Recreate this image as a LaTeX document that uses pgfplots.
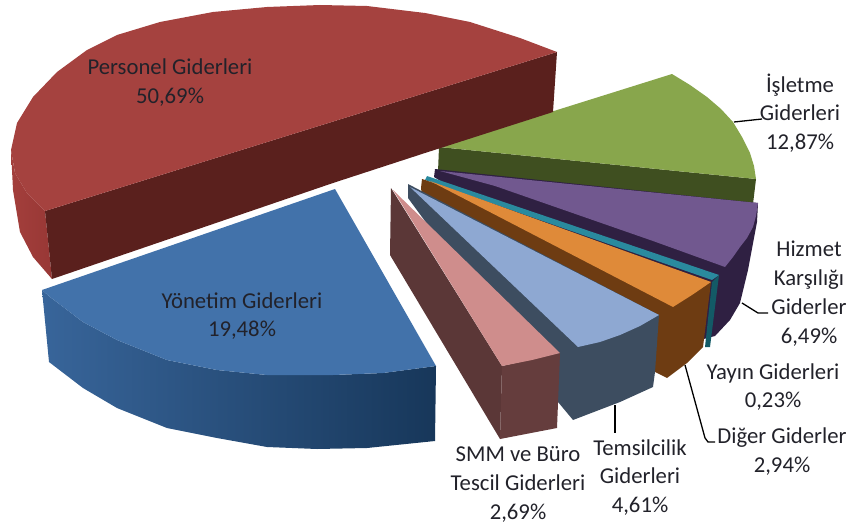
\documentclass[border=0pt]{standalone}
\usepackage{fontspec}
\setmainfont{Carlito}
\usepackage{pgfplots}
\pgfplotsset{compat=1.18}
\definecolor{redtop}{HTML}{A5423F}
\definecolor{reddark}{HTML}{5A201D}
\definecolor{redside}{HTML}{A33F3C}
\definecolor{redsideb}{HTML}{983735}
\definecolor{bluetop}{HTML}{4272AA}
\definecolor{bluea}{HTML}{38659A}
\definecolor{blueb}{HTML}{17375A}
\definecolor{greentop}{HTML}{88A64C}
\definecolor{greendark}{HTML}{3F4F20}
\definecolor{purpletop}{HTML}{71588F}
\definecolor{purpledark}{HTML}{2F2042}
\definecolor{tealtop}{HTML}{2A8A9E}
\definecolor{tealdark}{HTML}{135A66}
\definecolor{orangetop}{HTML}{DF8A39}
\definecolor{browndark}{HTML}{6E3C12}
\definecolor{ltblue}{HTML}{8EA8D2}
\definecolor{slate}{HTML}{3D4D60}
\definecolor{pinktop}{HTML}{CF8D8C}
\definecolor{maroona}{HTML}{5B3737}
\definecolor{maroonb}{HTML}{653D3D}
\definecolor{txt}{HTML}{22222A}
\tikzset{
  lab/.style={text=txt, align=center, font=\fontsize{22.7}{28.8}\selectfont, inner sep=0pt},
  lead/.style={draw=black, line width=1.3pt, fill=none},
}
\begin{document}
\begin{tikzpicture}
\path[use as bounding box] (0,0) rectangle (850pt,527pt);
\begin{axis}[
  anchor=south west, at={(0,0)},
  scale only axis, width=850pt, height=527pt,
  xmin=0, xmax=850, ymin=0, ymax=527, y dir=reverse,
  hide axis, no markers, clip=false,
  every axis plot/.append style={draw=none, line join=round},
]
% Isletme (green)
\addplot[fill=greendark] coordinates {(439,147)(756,179)(753,204)(438,172)} -- cycle;
\addplot[fill=greentop] coordinates {(672,74)(690,85)(707,97)(721,109)(733,122)(742,137)(750,153)(754,166)(756,179)(439,147)} -- cycle;
% Personel (red)
\addplot[left color=redside, right color=redsideb] coordinates {(11,150)(15,173)(27,193)(45,211)(52,279)(33,257)(20,232)(13,190)} -- cycle;
\addplot[fill=reddark] coordinates {(45,211)(557,52)(553,112)(425,153)(333,183)(52,279)} -- cycle;
\addplot[fill=redtop] coordinates {(11,150)(17,123)(33,97)(57,72)(87,50)(117,35)(160,22)(213,12)(267,7)(320,5)(367,6)(425,13)(470,22)(520,38)(557,52)(45,211)(27,193)(15,173)} -- cycle;
% Hizmet (purple)
\addplot[fill=purpledark] coordinates {(435,169)(758,203)(757,222)(748,270)(740,303)(730,320)(715,336)(700,340)(434,177)} -- cycle;
\addplot[fill=purpletop] coordinates {(440,171)(758,203)(756,216)(753,227)(747,238)(740,247)(733,257)(725,267)(653,241)(495,186)} -- cycle;
% Yayin (teal)
\addplot[fill=tealdark] coordinates {(719,275)(712,282)(705,347)(710,347)(713,323)} -- cycle;
\addplot[fill=tealtop] coordinates {(427,176)(719,275)(712,280)(425,180)} -- cycle;
% Diger (orange)
\addplot[fill=browndark] coordinates {(422,179)(428,181)(711,282)(703,347)(687,363)(667,378)(655,372)(640,335)(422,196)(421,188)} -- cycle;
\addplot[fill=orangetop] coordinates {(430,181)(711,282)(692,295)(673,307)} -- cycle;
% Temsilcilik (light blue)
\addplot[fill=slate] coordinates {(408,184)(659,315)(655,372)(653,387)(620,402)(573,420)(558,402)(408,198)} -- cycle;
\addplot[fill=ltblue] coordinates {(410,187)(659,315)(640,326)(620,335)(600,342)(578,347)} -- cycle;
% SMM (pink)
\addplot[fill=maroona] coordinates {(391,188)(502,366)(500,439)(390,255)} -- cycle;
\addplot[fill=maroonb] coordinates {(502,366)(560,353)(557,428)(500,439)} -- cycle;
\addplot[fill=pinktop] coordinates {(393,190)(560,353)(532,360)(502,366)} -- cycle;
% Yonetim (blue)
\addplot[left color=bluea, right color=blueb] coordinates {(42,290)(50,297)(83,322)(117,340)(167,360)(217,370)(267,375)(333,375)(383,373)(436,366)(435,441)(367,448)(317,449)(267,447)(217,438)(167,428)(117,408)(83,388)(49,362)} -- cycle;
\addplot[fill=bluetop] coordinates {(335,189)(436,366)(383,373)(333,375)(267,375)(217,370)(167,360)(117,340)(83,322)(50,297)(42,290)} -- cycle;
% leader lines
\addplot[lead] coordinates {(734,122)(762,119)};
\addplot[lead] coordinates {(742,303)(758,313)(768,313)};
\addplot[lead] coordinates {(615,405)(615,433)};
\addplot[lead] coordinates {(685,365)(705,438)(708,442)(715,442)};
% labels
\node[lab] at (axis cs:170,82.5) {Personel Giderleri\\50,69\%};
\node[lab] at (axis cs:242,316) {Yönetim Giderleri\\19,48\%};
\node[lab] at (axis cs:800,113) {İşletme\\Giderleri\\12,87\%};
\node[lab] at (axis cs:809,293.5) {Hizmet\\Karşılığı\\Giderler\\6,49\%};
\node[lab] at (axis cs:773,387) {Yayın Giderleri\\0,23\%};
\node[lab] at (axis cs:782,451.5) {Diğer Giderler\\2,94\%};
\node[lab] at (axis cs:640,477.5) {Temsilcilik\\Giderleri\\4,61\%};
\node[lab] at (axis cs:518,484.5) {SMM ve Büro\\Tescil Giderleri\\2,69\%};
\end{axis}
\end{tikzpicture}
\end{document}
